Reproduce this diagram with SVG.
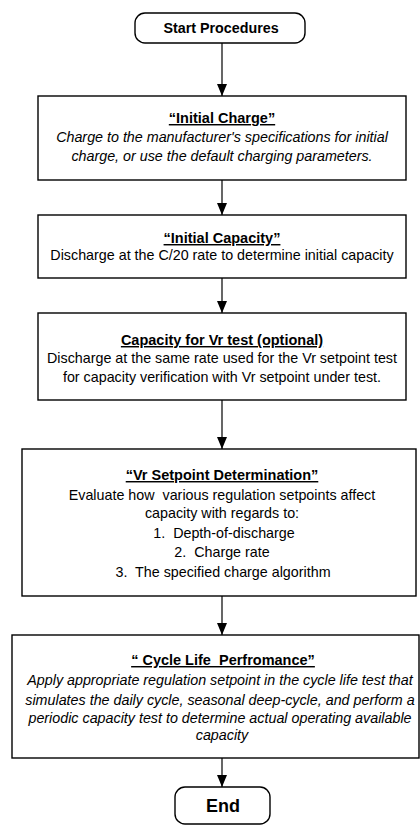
<svg xmlns="http://www.w3.org/2000/svg" width="420" height="827" viewBox="0 0 420 827">
  <style>
    .box { fill: #ffffff; stroke: #000000; stroke-width: 1.4; }
    .term { fill: #ffffff; stroke: #000000; stroke-width: 1.4; }
    .link { stroke: #000000; stroke-width: 1.2; fill: none; }
    text { font-family: "Liberation Sans", Arial, sans-serif; font-size: 14.3px; fill: #000000; text-anchor: middle; white-space: pre; }
    .title { font-size: 14.5px; font-weight: bold; text-decoration: underline; }
    .it { font-style: italic; }
    .termtxt { font-weight: bold; }
  </style>
  <defs>
    <marker id="arrow" viewBox="0 0 12 10" refX="12" refY="5" markerWidth="12" markerHeight="10" markerUnits="userSpaceOnUse" orient="auto">
      <path d="M0,0 L12,5 L0,10 Z" fill="#000000"/>
    </marker>
  </defs>
  <rect width="420" height="827" fill="#ffffff"/>

  <!-- connectors between steps -->
  <g id="connectors">
    <path class="link" d="M222,43 V96" marker-end="url(#arrow)"/>
    <path class="link" d="M222,180 V215" marker-end="url(#arrow)"/>
    <path class="link" d="M222,278 V313" marker-end="url(#arrow)"/>
    <path class="link" d="M222,400 V449" marker-end="url(#arrow)"/>
    <path class="link" d="M222,596 V635" marker-end="url(#arrow)"/>
    <path class="link" d="M222,758 V787" marker-end="url(#arrow)"/>
  </g>

  <g id="start">
    <rect class="term" x="135" y="13" width="170" height="30" rx="10"/>
    <text class="termtxt" x="221" y="33">Start Procedures</text>
  </g>

  <g id="initial-charge">
    <rect class="box" x="38" y="96" width="368" height="84"/>
    <text class="title" x="222" y="123">“Initial Charge”</text>
    <text class="it" x="222" y="142">Charge to the manufacturer's specifications for initial</text>
    <text class="it" x="222" y="161">charge, or use the default charging parameters.</text>
  </g>

  <g id="initial-capacity">
    <rect class="box" x="38" y="215" width="368" height="63"/>
    <text class="title" x="222" y="243">“Initial Capacity”</text>
    <text x="222" y="260">Discharge at the C/20 rate to determine initial capacity</text>
  </g>

  <g id="capacity-vr">
    <rect class="box" x="38" y="313" width="368" height="87"/>
    <text class="title" x="222" y="345">Capacity for Vr test (optional)</text>
    <text x="222" y="363">Discharge at the same rate used for the Vr setpoint test</text>
    <text x="222" y="382">for capacity verification with Vr setpoint under test.</text>
  </g>

  <g id="vr-setpoint">
    <rect class="box" x="22" y="449" width="394" height="147"/>
    <text class="title" x="222" y="480">“Vr Setpoint Determination”</text>
    <text x="222" y="500">Evaluate how  various regulation setpoints affect</text>
    <text x="222" y="518">capacity with regards to:</text>
    <text x="224" y="538">1.  Depth-of-discharge</text>
    <text x="222" y="557">2.  Charge rate</text>
    <text x="223" y="577">3.  The specified charge algorithm</text>
  </g>

  <g id="cycle-life">
    <rect class="box" x="12" y="635" width="407" height="123"/>
    <text class="title" x="223" y="665">“ Cycle Life  Perfromance”</text>
    <text class="it" x="220" y="685">Apply appropriate regulation setpoint in the cycle life test that</text>
    <text class="it" x="220" y="705">simulates the daily cycle, seasonal deep-cycle, and perform a</text>
    <text class="it" x="220" y="723">periodic capacity test to determine actual operating available</text>
    <text class="it" x="222" y="740">capacity</text>
  </g>

  <g id="end">
    <rect class="term" x="175" y="787" width="95" height="37" rx="10"/>
    <text class="termtxt" x="223" y="812" style="font-size:18px">End</text>
  </g>
</svg>
